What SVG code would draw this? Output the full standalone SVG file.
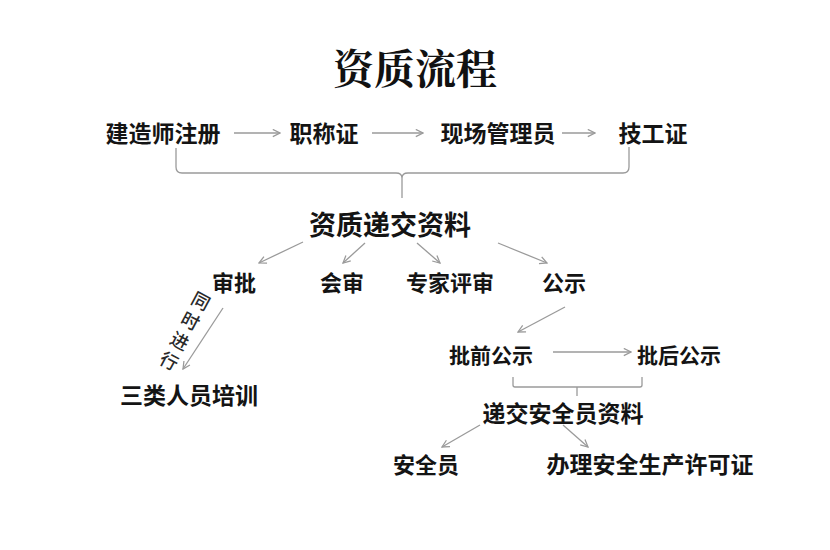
<svg xmlns="http://www.w3.org/2000/svg" width="830" height="550" viewBox="0 0 830 550">
<defs>
<style>
.t{font-family:"Noto Sans CJK SC","Noto Sans",sans-serif;font-weight:700;fill:#141414;text-anchor:middle;dominant-baseline:central}
.title{font-family:"Noto Serif CJK SC","Noto Sans CJK SC",serif;font-weight:700;fill:#111;text-anchor:middle;dominant-baseline:central}
.v{font-family:"Noto Sans CJK SC",sans-serif;font-weight:500;fill:#2a2a2a;text-anchor:middle;dominant-baseline:central}
.c{fill:none;stroke:#9a9a9a;stroke-width:1.3}
.a{fill:none;stroke:#9a9a9a;stroke-width:1.3;marker-end:url(#ah)}
</style>
<marker id="ah" viewBox="0 0 10 10" refX="9" refY="5" markerWidth="9" markerHeight="9" markerUnits="userSpaceOnUse" orient="auto">
<path d="M1,1 L9,5 L1,9" fill="none" stroke="#9a9a9a" stroke-width="1.4"/>
</marker>
</defs>
<rect width="830" height="550" fill="#fff"/>
<g id="title"><text class="title" x="415" y="66" font-size="41">资质流程</text></g>
<g id="n1"><text class="t" x="163" y="132" font-size="23">建造师注册</text></g>
<g id="n2"><text class="t" x="324" y="132" font-size="23">职称证</text></g>
<g id="n3"><text class="t" x="498" y="132" font-size="23">现场管理员</text></g>
<g id="n4"><text class="t" x="653" y="132" font-size="23">技工证</text></g>
<g id="n5"><text class="t" x="390" y="223" font-size="27">资质递交资料</text></g>
<g id="n6"><text class="t" x="234" y="281" font-size="22">审批</text></g>
<g id="n7"><text class="t" x="342" y="281" font-size="22">会审</text></g>
<g id="n8"><text class="t" x="450" y="281" font-size="22">专家评审</text></g>
<g id="n9"><text class="t" x="564" y="281" font-size="22">公示</text></g>
<g id="n10"><text class="t" x="189" y="394" font-size="23">三类人员培训</text></g>
<g id="n11"><text class="t" x="491" y="354" font-size="21">批前公示</text></g>
<g id="n12"><text class="t" x="679" y="354" font-size="21">批后公示</text></g>
<g id="n13"><text class="t" x="563" y="412" font-size="23">递交安全员资料</text></g>
<g id="n14"><text class="t" x="426" y="463" font-size="22">安全员</text></g>
<g id="n15"><text class="t" x="650" y="463" font-size="23">办理安全生产许可证</text></g>
<g id="label">
<g transform="translate(201.5,300) rotate(28)">
<text class="v" x="0" y="0" font-size="18">同</text>
<text class="v" x="0" y="22.6" font-size="18">时</text>
<text class="v" x="0" y="45.2" font-size="18">进</text>
<text class="v" x="0" y="67.8" font-size="18">行</text>
</g>
</g>
<g id="connectors">
<line class="a" x1="234" y1="133" x2="280" y2="133"/>
<line class="a" x1="372" y1="133" x2="423" y2="133"/>
<line class="a" x1="562" y1="133" x2="595" y2="133"/>
<path class="c" d="M176,148 V167 Q176,173 182,173 H396 Q402,173 402,178 Q402,173 408,173 H623 Q629,173 629,167 V147"/>
<line class="c" x1="402" y1="178" x2="402" y2="198"/>
<line class="a" x1="303" y1="242" x2="259" y2="263"/>
<line class="a" x1="365" y1="243" x2="343" y2="263"/>
<line class="a" x1="417" y1="243" x2="440" y2="263"/>
<line class="a" x1="498" y1="243" x2="547" y2="263"/>
<line class="a" x1="223" y1="308" x2="183" y2="369"/>
<line class="a" x1="565" y1="307" x2="518" y2="332"/>
<line class="a" x1="553" y1="352" x2="631" y2="352"/>
<path class="c" d="M513,377 V385 Q513,387 515,387 H640 Q642,387 642,385 V377"/>
<line class="c" x1="577" y1="387" x2="577" y2="396"/>
<line class="a" x1="480" y1="425" x2="442" y2="447"/>
<line class="a" x1="563" y1="425" x2="588" y2="447"/>
</g>
</svg>
